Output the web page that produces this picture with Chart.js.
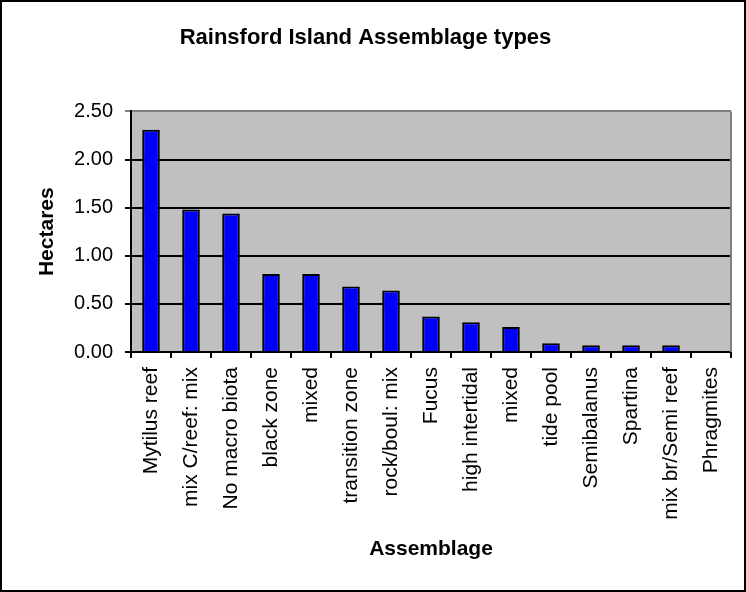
<!DOCTYPE html>
<html>
<head>
<meta charset="utf-8">
<script src="https://cdn.jsdelivr.net/npm/chart.js@4/dist/chart.umd.min.js"></script>
<style>
  html, body { margin: 0; padding: 0; background: #fff; }
  canvas { display: block; }
</style>
</head>
<body>
<canvas id="chart" width="746" height="592"></canvas>
<script>
// data
let assemblages = [
    'Mytilus reef', 'mix C/reef: mix', 'No macro biota', 'black zone', 'mixed',
    'transition zone', 'rock/boul: mix', 'Fucus', 'high intertidal', 'mixed',
    'tide pool', 'Semibalanus', 'Spartina', 'mix br/Semi reef', 'Phragmites'
]
let hectares = [2.31, 1.48, 1.44, 0.81, 0.81, 0.68, 0.64, 0.37, 0.31, 0.26, 0.09, 0.07, 0.07, 0.07, 0.0]
let yTicks = [0, 0.5, 1.0, 1.5, 2.0, 2.5]

const font = 'Liberation Sans, Arial, sans-serif'

// grey plot area, grey right edge, outer frame
const frame = {
    id: 'frame',
    beforeDraw(chart) {
        const { ctx, chartArea: a } = chart
        ctx.save()
        ctx.fillStyle = '#c0c0c0'
        ctx.fillRect(a.left, a.top, a.right - a.left, a.bottom - a.top)
        ctx.restore()
    },
    afterDraw(chart) {
        const { ctx, chartArea: a } = chart
        ctx.save()
        ctx.strokeStyle = '#808080'
        ctx.lineWidth = 2
        ctx.beginPath()
        ctx.moveTo(a.right, a.top)
        ctx.lineTo(a.right, a.bottom)
        ctx.stroke()
        ctx.strokeStyle = '#000'
        ctx.strokeRect(1, 1, chart.width - 2, chart.height - 2)
        ctx.restore()
    }
}

const ctx = document.getElementById('chart').getContext('2d')
const myChart = new Chart(ctx, {
    type: 'bar',
    data: {
        labels: assemblages,
        datasets: [{
            data: hectares,
            backgroundColor: '#0000ff',
            borderColor: '#000000',
            borderWidth: 2,
            categoryPercentage: 1,
            barPercentage: 0.44
        }]
    },
    options: {
        responsive: false,
        animation: false,
        layout: { padding: { left: 0, right: 15, top: 0, bottom: 0 } },
        plugins: {
            legend: { display: false },
            tooltip: { enabled: false },
            title: {
                display: true,
                text: 'Rainsford Island Assemblage types',
                color: '#000',
                font: { family: font, size: 22, weight: 'bold' },
                padding: { top: 25, bottom: 60 }
            }
        },
        scales: {
            x: {
                offset: true,
                grid: {
                    display: true,
                    offset: true,
                    drawOnChartArea: false,
                    color: '#000',
                    lineWidth: 2,
                    tickLength: 6
                },
                border: { color: '#000', width: 2 },
                ticks: {
                    color: '#000',
                    font: { family: font, size: 21 },
                    minRotation: 90,
                    maxRotation: 90,
                    padding: 9,
                    autoSkip: false
                },
                title: {
                    display: true,
                    text: 'Assemblage',
                    color: '#000',
                    font: { family: font, size: 21, weight: 'bold' },
                    padding: { top: 4, bottom: 30 }
                },
                afterFit(scale) { scale.height = 240 }
            },
            y: {
                min: 0,
                max: 2.5,
                afterBuildTicks(scale) { scale.ticks = yTicks.map(v => ({ value: v })) },
                grid: {
                    color: c => c.tick && c.tick.value === 2.5 ? '#808080' : '#000',
                    lineWidth: 2,
                    tickLength: 6
                },
                border: { color: '#000', width: 2 },
                ticks: {
                    color: '#000',
                    font: { family: font, size: 20 },
                    padding: 12,
                    callback: v => Number(v).toFixed(2)
                },
                title: {
                    display: true,
                    text: 'Hectares',
                    color: '#000',
                    font: { family: font, size: 21, weight: 'bold' },
                    padding: { top: 35, bottom: 0 }
                },
                afterFit(scale) { scale.width = 131 }
            }
        }
    },
    plugins: [frame]
})
</script>
</body>
</html>
